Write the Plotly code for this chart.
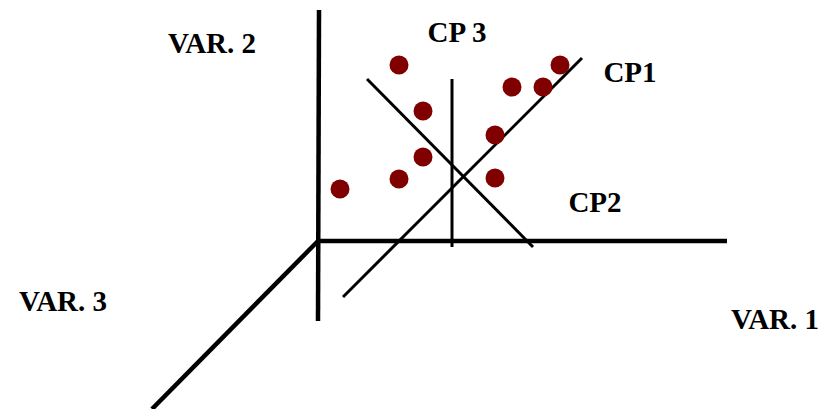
import plotly.graph_objects as go

# diagram coordinates (x right, y down, same units as the picture)
obs_x = [399, 423, 423, 399, 340, 512, 543, 560, 495, 495]
obs_y = [65, 111, 157, 179, 189, 87, 87, 65, 135, 178]

# original variable axes, all from the origin
origin = (318, 241)
var1_end = (727, 241)
var2_ends = ((319, 10), (318, 321))
var3_end = (152, 409)

# principal components
cp1 = ((343, 297), (582, 58))
cp2 = ((367, 79), (533, 247))
cp3 = ((452, 79), (452, 247))

labels = ["VAR. 2", "CP 3", "CP1", "CP2", "VAR. 3", "VAR. 1"]
label_x = [212, 457, 630, 595, 63, 775]
label_y = [46, 35, 75, 205, 304, 322]

fig = go.Figure()

def seg(p, q, w):
    fig.add_trace(go.Scatter(x=[p[0], q[0]], y=[p[1], q[1]], mode="lines",
                             line=dict(color="black", width=w),
                             hoverinfo="skip", showlegend=False))

seg(origin, var1_end, 4.5)
seg(var2_ends[0], var2_ends[1], 4.5)
seg(origin, var3_end, 4.5)
seg(*cp1, 3)
seg(*cp2, 3)
seg(*cp3, 3)

fig.add_trace(go.Scatter(x=obs_x, y=obs_y, mode="markers",
                         marker=dict(color="#800000", size=19, line=dict(width=0)),
                         showlegend=False))

fig.add_trace(go.Scatter(x=label_x, y=label_y, mode="text", text=labels,
                         textfont=dict(family="Liberation Serif", size=29,
                                       color="black", weight="bold"),
                         hoverinfo="skip", showlegend=False))

fig.update_xaxes(range=[0, 827], visible=False, fixedrange=True)
fig.update_yaxes(range=[409, 0], visible=False, fixedrange=True)
fig.update_layout(width=827, height=409, margin=dict(l=0, r=0, t=0, b=0),
                  plot_bgcolor="white", paper_bgcolor="white")

# drop the page's default body margin so the figure sits at 0,0
fig.write_html("out.html", post_script="document.body.style.margin='0';",
               config={"displayModeBar": False})
